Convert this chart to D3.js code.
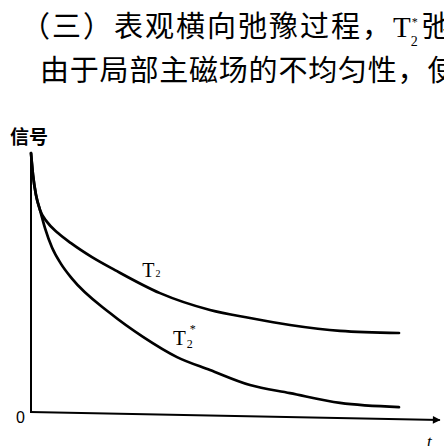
<!DOCTYPE html>
<html>
<head>
<meta charset="utf-8">
<script src="https://cdn.jsdelivr.net/npm/d3@7"></script>
<style>
  body { margin: 0; background: #fff; }
  svg { display: block; }
</style>
</head>
<body>
<svg id="chart"></svg>
<script>
var width = 444;
var height = 446;

// values (t in arbitrary units, signal normalised to 1)
var tT2 = [0, 0.05, 0.125, 0.225, 0.4, 0.675, 1.0, 1.525, 2.1, 3.225, 4.475, 5.475, 6.475, 7.725, 9.2];
var sT2 = [1.0, 0.915, 0.838, 0.78, 0.734, 0.691, 0.652, 0.598, 0.548, 0.459, 0.394, 0.363, 0.336, 0.313, 0.305];
var tT2s = [0, 0.05, 0.125, 0.225, 0.35, 0.525, 0.75, 1.025, 1.975, 2.8, 3.65, 4.475, 5.475, 6.475, 7.725, 9.2];
var sT2s = [1.0, 0.915, 0.838, 0.78, 0.71, 0.635, 0.572, 0.515, 0.382, 0.29, 0.212, 0.162, 0.104, 0.073, 0.035, 0.019];

var yLabel = "信号";
var xLabel = "t";
var zeroLabel = "0";
var textLines = ["（三）表观横向弛豫过程，", "由于局部主磁场的不均匀性，使"];

var svg = d3.select("#chart").attr("width", width).attr("height", height);

var x = d3.scaleLinear().domain([0, 10]).range([31, 431]);
var y = d3.scaleLinear().domain([0, 1]).range([412, 153]);

// body text above the figure
var cjk = "'Noto Sans CJK SC', sans-serif";
var serif = "'Liberation Serif', serif";
var l1 = svg.append("text")
    .attr("x", 21).attr("y", 37)
    .attr("font-family", cjk).attr("font-size", 29)
    .attr("letter-spacing", 2).attr("fill", "#000");
l1.append("tspan").text(textLines[0]);
l1.append("tspan").attr("font-family", serif).attr("letter-spacing", 0).text("T");
l1.append("tspan").attr("font-family", serif).attr("letter-spacing", 0)
    .attr("font-size", 14).attr("dy", 9).text("2");
l1.append("tspan").attr("font-family", serif).attr("letter-spacing", 0)
    .attr("font-size", 12).attr("dx", -6).attr("dy", -20).text("*");
l1.append("tspan").attr("dy", 11).attr("dx", 4).text("弛");

svg.append("text")
    .attr("x", 40).attr("y", 81)
    .attr("font-family", cjk).attr("font-size", 29)
    .attr("letter-spacing", 0.8).attr("fill", "#000")
    .text(textLines[1]);

// arrow head for the time axis
svg.append("defs").append("marker")
    .attr("id", "arrow")
    .attr("viewBox", "0 -5 10 10")
    .attr("refX", 9)
    .attr("refY", 0)
    .attr("markerWidth", 7)
    .attr("markerHeight", 3.5)
    .attr("markerUnits", "strokeWidth")
    .attr("orient", "auto")
    .append("path")
    .attr("fill", "#000")
    .attr("d", "M0,-5L10,0L0,5Z");

// axes (the scan is slightly skewed, so the t axis drops a little to the right)
svg.append("line")
    .attr("x1", x(0)).attr("y1", y(1))
    .attr("x2", x(0)).attr("y2", y(0))
    .attr("stroke", "#000").attr("stroke-width", 2);

svg.append("path")
    .attr("d", "M" + (x(0) - 1) + "," + y(0) + "L" + x(10.22) + "," + (y(0) + 8))
    .attr("stroke", "#000").attr("stroke-width", 2.2)
    .attr("fill", "none")
    .attr("marker-end", "url(#arrow)");

// curves
var line = d3.line()
    .x(function(d) { return x(d[0]); })
    .y(function(d) { return y(d[1]); })
    .curve(d3.curveMonotoneX);

var series = [d3.zip(tT2, sT2), d3.zip(tT2s, sT2s)];

svg.append("g").selectAll("path")
    .data(series)
    .enter().append("path")
    .attr("d", line)
    .attr("fill", "none")
    .attr("stroke", "#000")
    .attr("stroke-width", 2.7)
    .attr("stroke-linecap", "round");

// labels
svg.append("text")
    .attr("x", 10).attr("y", 144)
    .attr("font-family", cjk).attr("font-size", 19).attr("font-weight", "bold")
    .text(yLabel);

svg.append("text")
    .attr("x", 16).attr("y", 423)
    .attr("font-family", "'Liberation Sans', sans-serif").attr("font-size", 16)
    .text(zeroLabel);

svg.append("text")
    .attr("x", 427).attr("y", 447)
    .attr("font-family", serif).attr("font-style", "italic")
    .attr("font-size", 17)
    .text(xLabel);

var lab1 = svg.append("text")
    .attr("x", x(2.78)).attr("y", y(0.52))
    .attr("font-family", serif).attr("font-size", 20);
lab1.append("tspan").text("T");
lab1.append("tspan").attr("font-size", 10).attr("dx", 1).text("2");

var lab2 = svg.append("text")
    .attr("x", x(3.55)).attr("y", y(0.26))
    .attr("font-family", serif).attr("font-size", 21);
lab2.append("tspan").text("T");
lab2.append("tspan").attr("font-size", 12).attr("dy", 3).attr("dx", 1).text("2");
lab2.append("tspan").attr("font-size", 12).attr("dx", -3).attr("dy", -15).text("*");
</script>
</body>
</html>
